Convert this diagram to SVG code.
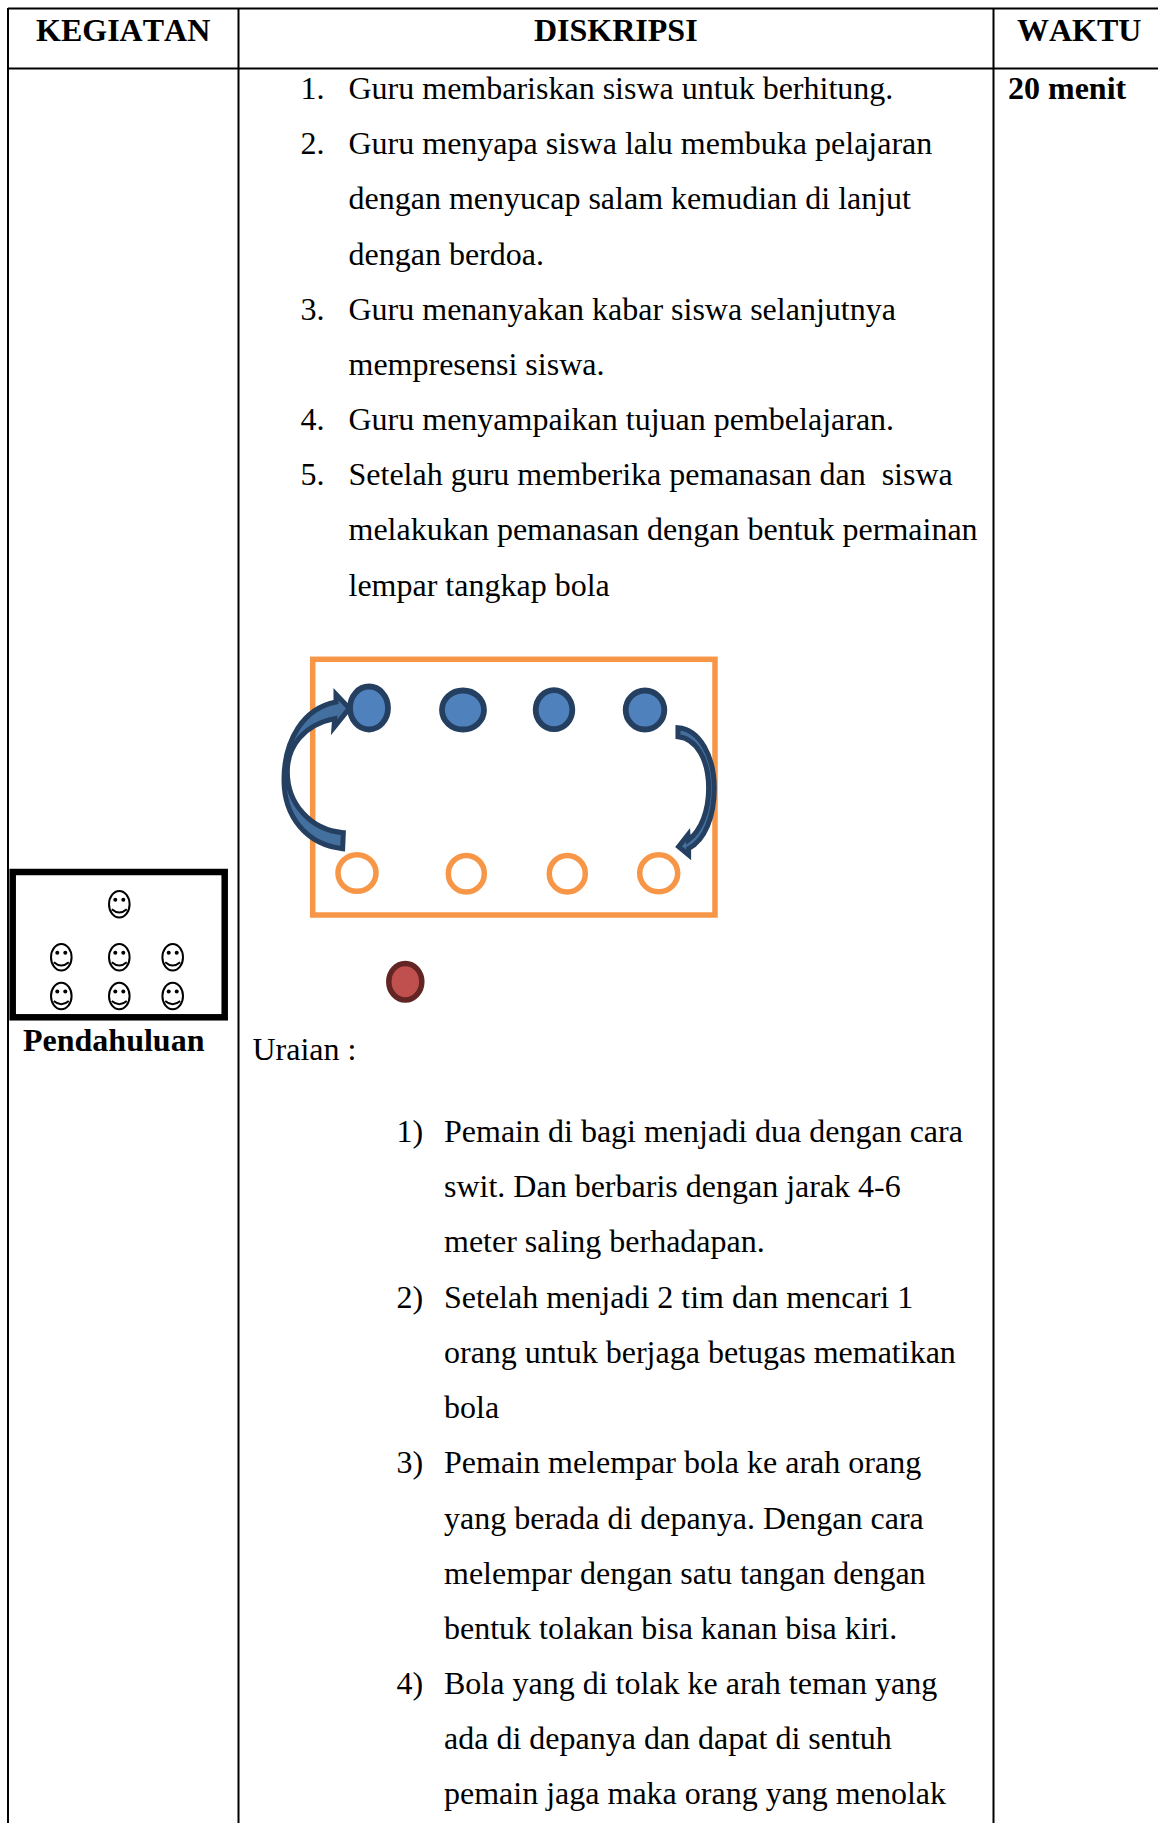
<svg xmlns="http://www.w3.org/2000/svg" width="1158" height="1823" viewBox="0 0 1158 1823">
<style>
text{font-family:"Liberation Serif","Times New Roman",serif;font-size:32px;fill:#000;white-space:pre}
.b{font-weight:bold;font-kerning:none}
.grid{stroke:#000;stroke-width:2;fill:none}
.blue{fill:#4F81BD;stroke:#243F60;stroke-width:5.800}
.or{fill:#fff;stroke:#F79646;stroke-width:5.500}
.arr{fill:#44709F;stroke:#243F60;stroke-width:15;stroke-linejoin:miter}
.sm{fill:none;stroke:#000;stroke-width:2}
</style>
<defs>
<g id="smile">
<ellipse class="sm" cx="0" cy="0" rx="10.300" ry="13.300"/>
<circle cx="-4" cy="-4.500" r="2"/><circle cx="4" cy="-4.500" r="2"/>
<path class="sm" d="M-7.500 5Q0 11.500 7.500 5"/>
</g>
</defs>
<g id="table" class="grid">
<path d="M8 8.500H1158M8 68.500H1158M8 8V1823M238.500 8V1823M993.500 8V1823"/>
</g>
<g id="headers">
<text class="b" x="36" y="41">KEGIATAN</text>
<text class="b" x="534" y="41">DISKRIPSI</text>
<text class="b" x="1017" y="41">WAKTU</text>
<text class="b" x="1008" y="99">20 menit</text>
</g>
<g id="list-top">
<text x="300.500" y="99">1.</text><text x="348.500" y="99">Guru membariskan siswa untuk berhitung.</text>
<text x="300.500" y="154">2.</text><text x="348.500" y="154">Guru menyapa siswa lalu membuka pelajaran</text>
<text x="348.500" y="209">dengan menyucap salam kemudian di lanjut</text>
<text x="348.500" y="265">dengan berdoa.</text>
<text x="300.500" y="320">3.</text><text x="348.500" y="320">Guru menanyakan kabar siswa selanjutnya</text>
<text x="348.500" y="375">mempresensi siswa.</text>
<text x="300.500" y="430">4.</text><text x="348.500" y="430">Guru menyampaikan tujuan pembelajaran.</text>
<text x="300.500" y="485">5.</text><text x="348.500" y="485">Setelah guru memberika pemanasan dan  siswa</text>
<text x="348.500" y="540">melakukan pemanasan dengan bentuk permainan</text>
<text x="348.500" y="596">lempar tangkap bola</text>
</g>
<g id="field">
<rect x="312.700" y="659.300" width="402.300" height="255.700" fill="none" stroke="#F79646" stroke-width="5.500"/>
</g>
<g id="players-blue">
<ellipse class="blue" cx="369" cy="708" rx="19" ry="21.500"/>
<ellipse class="blue" cx="463" cy="710" rx="21" ry="19.500"/>
<ellipse class="blue" cx="554" cy="709.700" rx="18.300" ry="19.500"/>
<ellipse class="blue" cx="645" cy="710" rx="19.300" ry="19.500"/>
</g>
<g id="players-orange">
<ellipse class="or" cx="357" cy="873" rx="19" ry="18.300"/>
<ellipse class="or" cx="466.300" cy="873.700" rx="18" ry="18.300"/>
<ellipse class="or" cx="567.300" cy="873.700" rx="18" ry="18.300"/>
<ellipse class="or" cx="658.700" cy="873.300" rx="19" ry="18.500"/>
</g>
<g id="player-red">
<ellipse cx="405.300" cy="981.700" rx="16.500" ry="18.300" fill="#C0504D" stroke="#632523" stroke-width="5.500"/>
</g>
<g id="connectors" transform="translate(260 640) scale(.3333)">
<path class="arr" d="M248 626C140 615 72 530 72 420C72 300 130 205 228 186L228 163L268 205L222 262L224 236C130 255 82 320 82 395C82 490 150 570 250 578Z"/>
<path class="arr" d="M1254 263C1320 268 1363 350 1363 445C1363 530 1335 600 1286 626L1286 645L1256 620L1284 584L1285 600C1325 570 1346 510 1346 445C1346 360 1310 295 1254 290Z"/>
</g>
<g id="formation">
<use href="#smile" x="119.300" y="904.300"/>
<use href="#smile" x="61.300" y="957.300"/>
<use href="#smile" x="119.300" y="957.300"/>
<use href="#smile" x="172.700" y="957.300"/>
<use href="#smile" x="61.300" y="996"/>
<use href="#smile" x="119.300" y="996"/>
<use href="#smile" x="172.700" y="996"/>
<rect x="12.700" y="872" width="212" height="145.300" fill="none" stroke="#000" stroke-width="6.500"/>
<text class="b" x="23" y="1051">Pendahuluan</text>
</g>
<g id="list-bottom">
<text x="252.500" y="1060">Uraian :</text>
<text x="396.500" y="1142">1)</text><text x="444" y="1142">Pemain di bagi menjadi dua dengan cara</text>
<text x="444" y="1197">swit. Dan berbaris dengan jarak 4-6</text>
<text x="444" y="1252">meter saling berhadapan.</text>
<text x="396.500" y="1308">2)</text><text x="444" y="1308">Setelah menjadi 2 tim dan mencari 1</text>
<text x="444" y="1363">orang untuk berjaga betugas mematikan</text>
<text x="444" y="1418">bola</text>
<text x="396.500" y="1473">3)</text><text x="444" y="1473">Pemain melempar bola ke arah orang</text>
<text x="444" y="1529">yang berada di depanya. Dengan cara</text>
<text x="444" y="1584">melempar dengan satu tangan dengan</text>
<text x="444" y="1639">bentuk tolakan bisa kanan bisa kiri.</text>
<text x="396.500" y="1694">4)</text><text x="444" y="1694">Bola yang di tolak ke arah teman yang</text>
<text x="444" y="1749">ada di depanya dan dapat di sentuh</text>
<text x="444" y="1804">pemain jaga maka orang yang menolak</text>
</g>
</svg>
